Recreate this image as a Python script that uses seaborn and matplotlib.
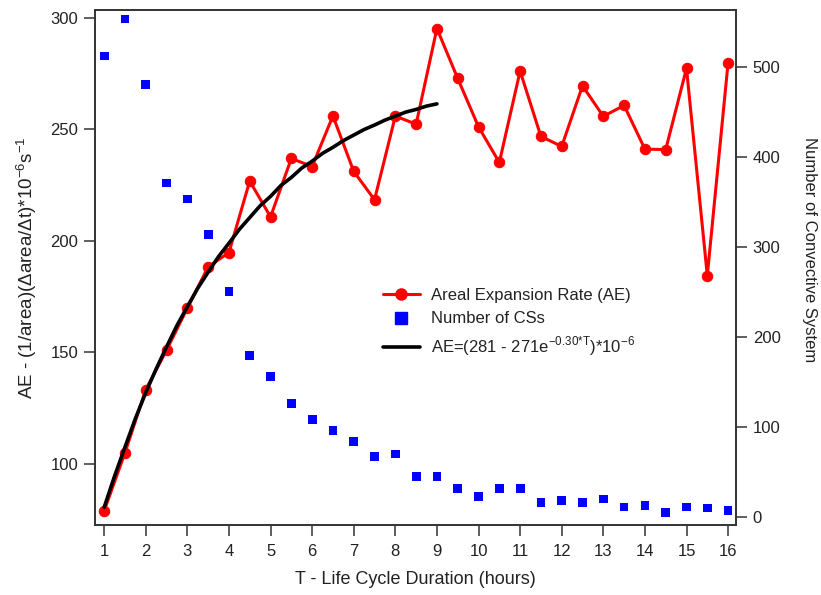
import matplotlib
matplotlib.use("Agg")
import matplotlib.pyplot as plt
import seaborn as sns
from matplotlib.lines import Line2D

# ---- data ----
T = [1.0, 1.5, 2.0, 2.5, 3.0, 3.5, 4.0, 4.5, 5.0, 5.5, 6.0, 6.5, 7.0, 7.5, 8.0,
     8.5, 9.0, 9.5, 10.0, 10.5, 11.0, 11.5, 12.0, 12.5, 13.0, 13.5, 14.0, 14.5,
     15.0, 15.5, 16.0]
ae_rate = [78.9, 105.0, 133.3, 151.0, 169.9, 188.4, 194.8, 226.9, 210.8, 237.0,
           233.4, 256.1, 231.2, 218.5, 256.0, 252.4, 295.3, 272.9, 251.2, 235.2,
           276.2, 246.9, 242.4, 269.6, 255.9, 260.8, 241.2, 241.0, 277.4, 184.5,
           280.0]
num_cs = [512, 553, 480, 371, 353, 314, 250, 179, 156, 126, 108, 96, 84, 67, 70,
          45, 45, 32, 23, 32, 32, 16, 18, 16, 20, 11, 13, 5, 11, 10, 7]
fit_T = [1.0, 1.25, 1.5, 1.75, 2.0, 2.25, 2.5, 2.75, 3.0, 3.25, 3.5, 3.75, 4.0,
         4.25, 4.5, 4.75, 5.0, 5.25, 5.5, 5.75, 6.0, 6.25, 6.5, 6.75, 7.0, 7.25,
         7.5, 7.75, 8.0, 8.25, 8.5, 8.75, 9.0]
fit_ae = [80.5, 94.5, 107.5, 120.3, 132.0, 142.6, 152.5, 162.1, 170.5, 178.8,
          186.0, 193.0, 199.0, 205.2, 210.5, 215.8, 220.0, 224.9, 228.5, 232.7,
          235.8, 239.3, 242.0, 245.0, 247.5, 250.0, 252.0, 254.2, 256.0, 257.8,
          259.0, 260.5, 261.5]

x_ticks = list(range(1, 17))
left_ticks = [100, 150, 200, 250, 300]
right_ticks = [0, 100, 200, 300, 400, 500]

label_ae = "Areal Expansion Rate (AE)"
label_cs = "Number of CSs"
label_fit = r"AE=(281 - 271e$^{\mathregular{-0.30{*}T}}$)*10$^{\mathregular{-6}}$"
xlabel = "T - Life Cycle Duration (hours)"
ylabel_left = r"AE - (1/area)(Δarea/Δt)*10$^{\mathregular{-6}}$s$^{\mathregular{-1}}$"
ylabel_right = "Number of Convective System"

# ---- style ----
sns.set_style("ticks")
plt.rcParams['font.family'] = ['Liberation Sans', 'DejaVu Sans']
plt.rcParams['mathtext.fontset'] = 'custom'
plt.rcParams['mathtext.rm'] = 'Liberation Sans'
text_col = '#222222'
spine_col = '#333333'

fig = plt.figure(figsize=(8.21, 5.95), dpi=100)
ax = fig.add_axes([95 / 821, 1 - 525 / 595, (736 - 95) / 821, (525 - 10) / 595])
ax2 = ax.twinx()

sns.lineplot(x=T, y=ae_rate, ax=ax, color='#FF0000', linewidth=2.2,
             marker='o', markersize=7.5, markeredgecolor='#FF0000',
             legend=False, zorder=2)
sns.lineplot(x=fit_T, y=fit_ae, ax=ax, color='black', linewidth=2.6,
             legend=False, zorder=3)
sns.scatterplot(x=T, y=num_cs, ax=ax2, color='#0000FF', marker='s', s=40,
                edgecolor='none', linewidth=0, legend=False, zorder=3)

ax.set_xlim(0.78, 16.19)
ax.set_ylim(72.6, 303.6)
ax2.set_ylim(-8.9, 563)
ax.set_xticks(x_ticks)
ax.set_xticklabels([str(v) for v in x_ticks])
ax.set_yticks(left_ticks)
ax2.set_yticks(right_ticks)

for a in (ax, ax2):
    for sp in a.spines.values():
        sp.set_color(spine_col)
        sp.set_linewidth(1.2)
    a.tick_params(length=8, width=1.1, color=spine_col, labelsize=12,
                  labelcolor=text_col, pad=4)
ax.tick_params(axis='x', pad=6)

ax.set_xlabel(xlabel, fontsize=13, color=text_col, labelpad=8)
ax.set_ylabel(ylabel_left, fontsize=13.5, color=text_col, labelpad=8)
ax2.set_ylabel(ylabel_right, fontsize=12, color=text_col, rotation=270,
               va='center', ha='center')
ax2.yaxis.set_label_coords((809 - 95) / 641, 1 - (250 - 10) / 515)

handles = [
    Line2D([], [], color='#FF0000', linewidth=2.2, marker='o', markersize=8),
    Line2D([], [], color='#0000FF', linestyle='none', marker='s', markersize=8),
    Line2D([], [], color='black', linewidth=2.6),
]
leg = ax2.legend(handles, [label_ae, label_cs, label_fit], loc='upper left',
                 bbox_to_anchor=(383 / 821, 1 - 288 / 595),
                 bbox_transform=fig.transFigure, frameon=False, fontsize=12,
                 handlelength=2.2, handletextpad=0.7, labelspacing=0.5,
                 borderpad=0, borderaxespad=0)
for t in leg.get_texts():
    t.set_color(text_col)

fig.savefig("out.png", dpi=100)
